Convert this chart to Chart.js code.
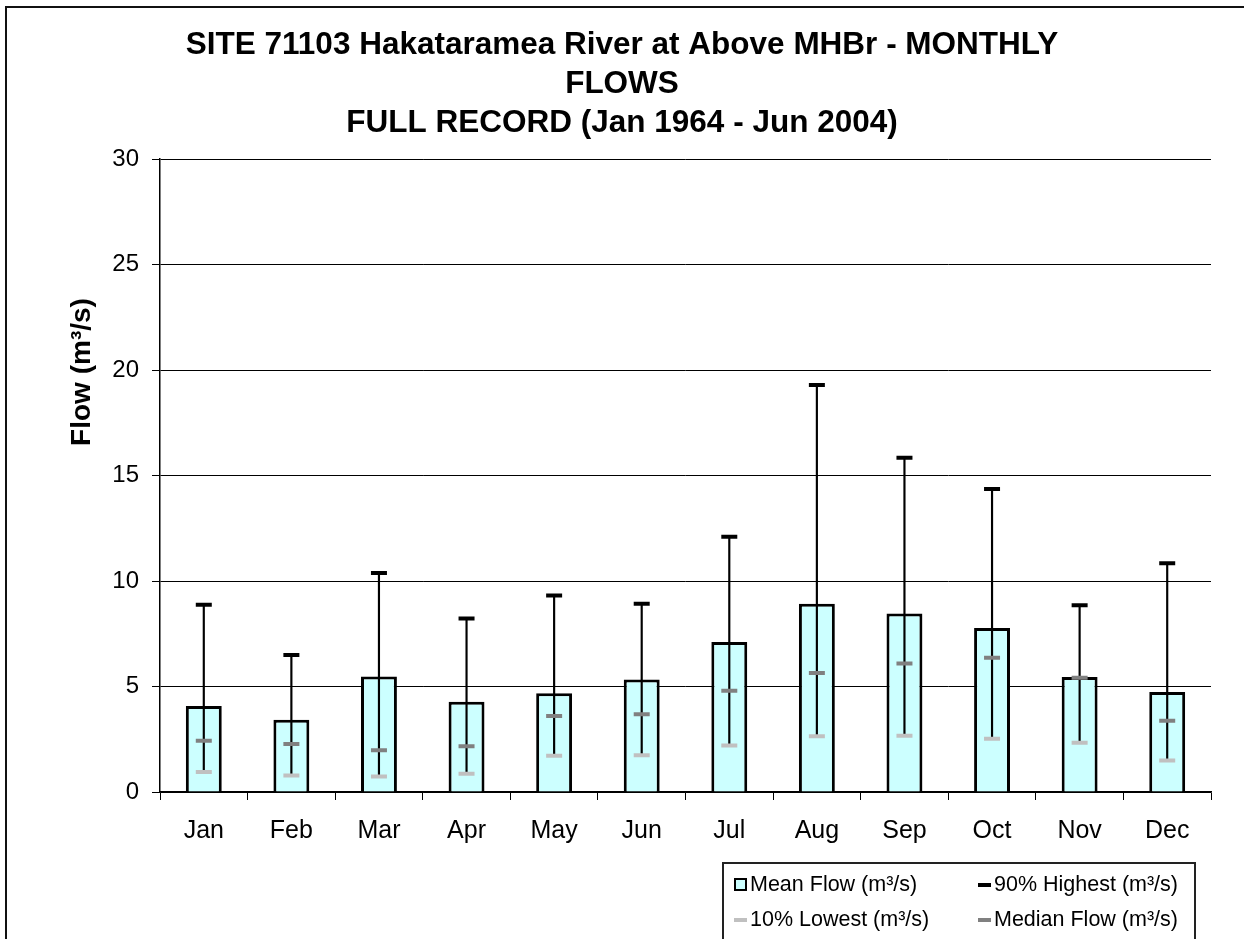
<!DOCTYPE html>
<html>
<head>
<meta charset="utf-8">
<script src="https://cdn.jsdelivr.net/npm/chart.js@4/dist/chart.umd.min.js"></script>
<style>
  body { margin: 0; background: #fff; overflow: hidden; }
  #wrap { position: relative; width: 1244px; height: 939px; }
  #frame {
    position: absolute; left: 5px; top: 6px; width: 1300px; height: 1000px;
    border-left: 2px solid #111; border-top: 2px solid #111; pointer-events: none;
  }
  #legend {
    position: absolute; left: 722px; top: 862px; width: 474px; height: 120px;
    border: 2px solid #222; box-sizing: border-box;
    font-family: "Liberation Sans", Arial, sans-serif; font-size: 21.5px; color: #000;
  }
  .item { position: absolute; display: flex; align-items: center; white-space: nowrap; }
  .sw-box { width: 9px; height: 9px; border: 2px solid #000; margin-right: 3px; }
  .sw-dash { width: 13px; height: 4px; margin-right: 3px; }
</style>
</head>
<body>
<div id="wrap">
  <canvas id="flowChart" width="1244" height="939"></canvas>
  <div id="frame"></div>
  <div id="legend"></div>
</div>
<script>
// Monthly flows (m3/s)
const months = ['Jan', 'Feb', 'Mar', 'Apr', 'May', 'Jun', 'Jul', 'Aug', 'Sep', 'Oct', 'Nov', 'Dec'];
const meanFlow = [4.08, 3.43, 5.47, 4.28, 4.68, 5.33, 7.11, 8.93, 8.46, 7.78, 5.45, 4.74];
const high90 = [8.88, 6.49, 10.38, 8.22, 9.31, 8.93, 12.1, 19.3, 15.85, 14.37, 8.85, 10.85];
const medianFlow = [2.43, 2.27, 1.98, 2.17, 3.6, 3.68, 4.8, 5.64, 6.09, 6.36, 5.42, 3.38];
const low10 = [0.95, 0.78, 0.74, 0.87, 1.72, 1.74, 2.2, 2.64, 2.67, 2.53, 2.34, 1.49];
const yTicks = [0, 5, 10, 15, 20, 25, 30];

const FONT = '"Liberation Sans", Arial, sans-serif';

function capSeries(label, data, color, order) {
  return {
    type: 'line',
    label: label,
    data: data,
    showLine: false,
    pointStyle: 'line',
    pointRadius: 8,
    pointHoverRadius: 8,
    pointBorderWidth: 4,
    pointHoverBorderWidth: 4,
    pointBorderColor: color,
    pointBackgroundColor: color,
    borderColor: color,
    order: order
  };
}

// y axis title sits a bit above the middle in the original, so draw it by hand
const yTitlePlugin = {
  id: 'yTitle',
  afterDraw(chart) {
    const c = chart.ctx;
    c.save();
    c.translate(82, 372);
    c.rotate(-Math.PI / 2);
    c.font = 'bold 28px ' + FONT;
    c.fillStyle = '#000';
    c.textAlign = 'center';
    c.textBaseline = 'middle';
    c.fillText('Flow (m³/s)', 0, 0);
    c.restore();
  }
};

const ctx = document.getElementById('flowChart').getContext('2d');

const chart = new Chart(ctx, {
  type: 'bar',
  data: {
    labels: months,
    datasets: [
      {
        label: 'Mean Flow (m³/s)',
        data: meanFlow,
        backgroundColor: '#CCFFFF',
        borderColor: '#000',
        borderWidth: 3,
        barPercentage: 0.41,
        categoryPercentage: 1,
        grouped: false,
        order: 4
      },
      {
        label: 'range',
        data: months.map((m, i) => [low10[i], high90[i]]),
        backgroundColor: '#000',
        borderWidth: 0,
        barThickness: 1.5,
        grouped: false,
        order: 3
      },
      capSeries('10% Lowest (m³/s)', low10, '#C0C0C0', 2),
      capSeries('Median Flow (m³/s)', medianFlow, '#808080', 1),
      capSeries('90% Highest (m³/s)', high90, '#000000', 0)
    ]
  },
  plugins: [yTitlePlugin],
  options: {
    responsive: false,
    animation: false,
    layout: { padding: { left: 33, right: 33, top: 0, bottom: 77 } },
    plugins: {
      legend: { display: false },
      tooltip: { enabled: false },
      title: {
        display: true,
        text: ['SITE 71103 Hakataramea River at Above MHBr - MONTHLY', 'FLOWS', 'FULL RECORD (Jan 1964 - Jun 2004)'],
        color: '#000',
        font: { family: FONT, size: 31.5, weight: 'bold', lineHeight: 1.24 },
        padding: { top: 26, bottom: 16 }
      }
    },
    scales: {
      x: {
        grid: { drawOnChartArea: false, tickLength: 8, color: '#000' },
        border: { color: '#000', width: 1.5 },
        ticks: { color: '#000', padding: 16, font: { family: FONT, size: 25 } }
      },
      y: {
        min: 0,
        max: 30,
        afterBuildTicks: (scale) => { scale.ticks = yTicks.map(v => ({ value: v })); },
        afterFit: (scale) => { scale.width = 127; },
        grid: { color: '#000', lineWidth: 1, tickLength: 8 },
        border: { color: '#000', width: 1.5 },
        ticks: { color: '#000', padding: 13, font: { family: FONT, size: 24 } }
      }
    }
  }
});

// legend box laid out like the original (two columns, two rows)
const legendItems = [
  { ds: 0, kind: 'box', x: 10, y: 21 },
  { ds: 4, kind: 'dash', x: 254, y: 21 },
  { ds: 2, kind: 'dash', x: 10, y: 56 },
  { ds: 3, kind: 'dash', x: 254, y: 56 }
];
const legendEl = document.getElementById('legend');
legendItems.forEach(it => {
  const ds = chart.data.datasets[it.ds];
  const el = document.createElement('div');
  el.className = 'item';
  el.style.left = it.x + 'px';
  el.style.top = (it.y - 13) + 'px';
  const sw = document.createElement('span');
  if (it.kind === 'box') {
    sw.className = 'sw-box';
    sw.style.background = ds.backgroundColor;
  } else {
    sw.className = 'sw-dash';
    sw.style.background = ds.pointBorderColor;
  }
  const txt = document.createElement('span');
  txt.textContent = ds.label;
  el.appendChild(sw);
  el.appendChild(txt);
  legendEl.appendChild(el);
});
</script>
</body>
</html>
